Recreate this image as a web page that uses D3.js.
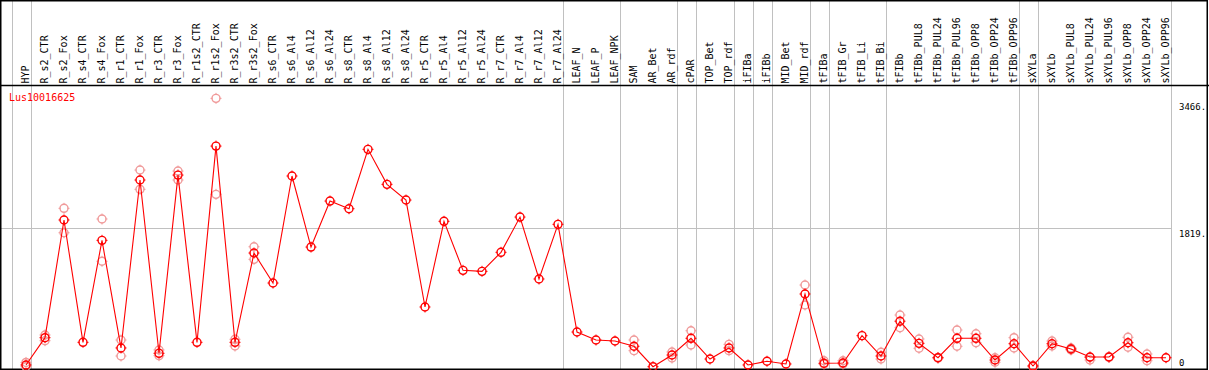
<!DOCTYPE html>
<html>
<head>
<meta charset="utf-8">
<script src="https://cdn.jsdelivr.net/npm/d3@7"></script>
<style>
  body { margin: 0; background: #fff; }
  svg { display: block; font-family: "DejaVu Sans Mono", monospace; }
</style>
</head>
<body>
<div id="chart"></div>
<script>
// categories (samples)
var categories = ["HYP","R_s2_CTR","R_s2_Fox","R_s4_CTR","R_s4_Fox","R_r1_CTR","R_r1_Fox","R_r3_CTR","R_r3_Fox",
  "R_r1s2_CTR","R_r1s2_Fox","R_r3s2_CTR","R_r3s2_Fox","R_s6_CTR","R_s6_Al4","R_s6_Al12","R_s6_Al24",
  "R_s8_CTR","R_s8_Al4","R_s8_Al12","R_s8_Al24","R_r5_CTR","R_r5_Al4","R_r5_Al12","R_r5_Al24",
  "R_r7_CTR","R_r7_Al4","R_r7_Al12","R_r7_Al24","LEAF_N","LEAF_P","LEAF_NPK","SAM","AR_Bet","AR_rdf",
  "cPAR","TOP_Bet","TOP_rdf","iFIBa","iFIBb","MID_Bet","MID_rdf","tFIBa","tFIB_Gr","tFIB_Li","tFIB_Bi",
  "tFIBb","tFIBb_PUL8","tFIBb_PUL24","tFIBb_PUL96","tFIBb_OPP8","tFIBb_OPP24","tFIBb_OPP96",
  "sXYLa","sXYLb","sXYLb_PUL8","sXYLb_PUL24","sXYLb_PUL96","sXYLb_OPP8","sXYLb_OPP24","sXYLb_OPP96"];

// mean expression
var meanValues = [52,405,1927,345,1664,272,2444,203,2508,
  345,2883,345,1500,1112,2496,1577,2172,
  2073,2841,2388,2185,802,1910,1276,1263,
  1509,1965,1164,1871,478,375,362,294,30,181,
  397,129,272,52,100,65,970,74,78,431,168,
  618,332,146,397,397,116,327,
  39,327,259,155,155,340,146,146];

// replicates (null = no visible replicate)
var rep1 = [85,440,2078,null,1940,375,2573,246,2560,
  null,3500,384,1581,null,null,null,null,
  null,null,null,null,null,null,null,null,
  null,null,null,null,null,null,null,375,null,220,
  495,null,319,null,null,null,1086,107,107,null,216,
  698,388,150,504,456,146,405,
  45,362,272,116,160,410,194,null];
var rep2 = [30,366,1762,null,1393,168,2324,172,2444,
  null,2259,297,1418,null,null,null,null,
  null,null,null,null,null,null,null,null,
  null,null,null,null,null,null,null,237,null,142,
  310,null,237,null,null,null,828,65,65,null,129,
  534,268,140,294,340,87,272,
  30,297,246,150,150,281,107,null];

// group separators: drawn after these categories
var groupBreaks = ["HYP","R_r7_Al24","LEAF_NPK","AR_rdf","cPAR","TOP_rdf","iFIBa","iFIBb",
  "MID_rdf","tFIBa","tFIB_Bi","tFIBb_OPP96","sXYLa","sXYLb_OPP96"];

var yTicks = [0, 1819, 3466];
var geneName = "Lus10016625";

var width = 1209, height = 370;
var headerH = 85;
var red = "#ff0000", pale = "#f09a9a", grid = "#c0c0c0";

var svg = d3.select("#chart").append("svg")
  .attr("width", width).attr("height", height);

var x = d3.scalePoint().domain(categories).range([26, 1166]);
var step = x.step();
var y = d3.scaleLinear().domain([0, 3466]).range([369, 101]);

// vertical group separators
var sepX = [x(categories[0]) - step + 4.5].concat(groupBreaks.map(function (c) { return x(c) + 4.5; }));
svg.selectAll(".sep").data(sepX).join("line")
  .attr("class", "sep")
  .attr("x1", function (d) { return Math.round(d) + 0.5; })
  .attr("x2", function (d) { return Math.round(d) + 0.5; })
  .attr("y1", 0).attr("y2", height)
  .attr("stroke", grid).attr("stroke-width", 1);

// horizontal grid line at middle tick
svg.append("line")
  .attr("x1", 1).attr("x2", Math.round(sepX[sepX.length - 1]) + 0.5)
  .attr("y1", Math.round(y(1819)) + 0.5).attr("y2", Math.round(y(1819)) + 0.5)
  .attr("stroke", grid);

// y tick labels on the right
svg.selectAll(".ylab").data(yTicks).join("text")
  .attr("class", "ylab")
  .attr("x", 1179)
  .attr("y", function (d) { return d === 0 ? 366 : y(d) + 9; })
  .attr("font-size", "9px")
  .attr("fill", "#000")
  .text(function (d) { return d === 0 ? "0" : d + "."; });

// category labels in the header
svg.selectAll(".xlab").data(categories).join("text")
  .attr("class", "xlab")
  .attr("transform", function (d) { return "translate(" + (x(d) + 3) + "," + 83.5 + ") rotate(-90)"; })
  .attr("font-size", "10px")
  .attr("fill", "#000")
  .text(function (d) { return d; });

// frame
svg.append("line").attr("x1", 0).attr("x2", width).attr("y1", headerH + 0.5).attr("y2", headerH + 0.5)
  .attr("stroke", "#000").attr("stroke-width", 1.5);
svg.append("rect").attr("x", 0.75).attr("y", 0.75).attr("width", width - 2.5).attr("height", height - 1.5)
  .attr("fill", "none").attr("stroke", "#000").attr("stroke-width", 1.5);

// gene name
svg.append("text").attr("x", 9).attr("y", 101)
  .attr("font-size", "10px").attr("fill", red).text(geneName);

function drawMarker(g, cx, cy, color) {
  g.append("circle").attr("cx", cx).attr("cy", cy).attr("r", 4)
    .attr("fill", "none").attr("stroke", color).attr("stroke-width", 1.4);
  [[0, -1], [0, 1], [-1, 0], [1, 0]].forEach(function (v) {
    g.append("line")
      .attr("x1", cx + v[0] * 3.5).attr("y1", cy + v[1] * 3.5)
      .attr("x2", cx + v[0] * 5.5).attr("y2", cy + v[1] * 5.5)
      .attr("stroke", color).attr("stroke-width", 1);
  });
}

// replicate markers
var repG = svg.append("g");
[rep1, rep2].forEach(function (rep) {
  rep.forEach(function (v, i) {
    if (v === null) return;
    drawMarker(repG, x(categories[i]), y(v), pale);
  });
});

// mean line
svg.append("path")
  .datum(meanValues)
  .attr("fill", "none")
  .attr("stroke", red)
  .attr("stroke-width", 1.1)
  .attr("d", d3.line()
    .x(function (d, i) { return x(categories[i]); })
    .y(function (d) { return y(d); }));

// mean markers
var meanG = svg.append("g");
meanValues.forEach(function (v, i) {
  drawMarker(meanG, x(categories[i]), y(v), red);
});
</script>
</body>
</html>
